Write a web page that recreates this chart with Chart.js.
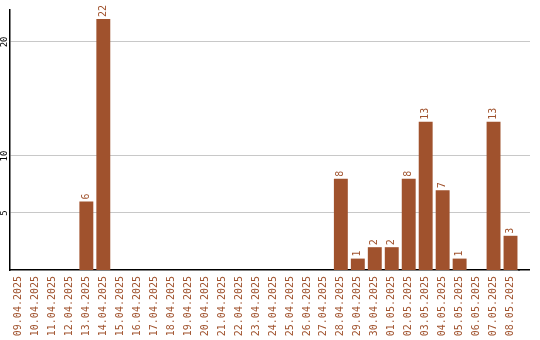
<!DOCTYPE html>
<html>
<head>
<meta charset="utf-8">
<script src="https://cdn.jsdelivr.net/npm/chart.js@4"></script>
<style>
  html, body { margin: 0; padding: 0; background: #fff; }
  #wrap { width: 540px; height: 340px; }
</style>
</head>
<body>
<div id="wrap"><canvas id="barChart"></canvas></div>
<script>
const days = [
  "09.04.2025", "10.04.2025", "11.04.2025", "12.04.2025", "13.04.2025",
  "14.04.2025", "15.04.2025", "16.04.2025", "17.04.2025", "18.04.2025",
  "19.04.2025", "20.04.2025", "21.04.2025", "22.04.2025", "23.04.2025",
  "24.04.2025", "25.04.2025", "26.04.2025", "27.04.2025", "28.04.2025",
  "29.04.2025", "30.04.2025", "01.05.2025", "02.05.2025", "03.05.2025",
  "04.05.2025", "05.05.2025", "06.05.2025", "07.05.2025", "08.05.2025"
];
const counts = [0, 0, 0, 0, 6, 22, 0, 0, 0, 0, 0, 0, 0, 0, 0, 0, 0, 0, 0, 8, 1, 2, 2, 8, 13, 7, 1, 0, 13, 3];
const yTicks = [5, 10, 20];

const barColor = "#a0522d";
const gridColor = "#c8c8c8";
const monoFont = "'DejaVu Sans Mono', monospace";
const extraRight = 11; // plot area runs a bit past the last category

// grid lines and x axis run a little further right than the categories
const extendPlugin = {
  id: "extendAxis",
  beforeDatasetsDraw(chart) {
    const ctx = chart.ctx;
    const area = chart.chartArea;
    const y = chart.scales.y;
    ctx.save();
    ctx.strokeStyle = gridColor;
    ctx.lineWidth = 1;
    yTicks.forEach((t) => {
      const py = Math.round(y.getPixelForValue(t) - 0.5) + 0.5;
      ctx.beginPath();
      ctx.moveTo(area.right - 1, py);
      ctx.lineTo(area.right + extraRight, py);
      ctx.stroke();
    });
    ctx.strokeStyle = "#000";
    ctx.lineWidth = 1.5;
    const by = Math.round(area.bottom - 0.75) + 0.75;
    ctx.beginPath();
    ctx.moveTo(area.right - 1, by);
    ctx.lineTo(area.right + extraRight, by);
    ctx.stroke();
    ctx.restore();
  },
};

// draws the rotated value labels and the rotated y tick labels
const labelPlugin = {
  id: "rotatedLabels",
  afterDatasetsDraw(chart) {
    const ctx = chart.ctx;
    const meta = chart.getDatasetMeta(0);
    ctx.save();
    ctx.font = "10px " + monoFont;
    ctx.fillStyle = barColor;
    ctx.textAlign = "left";
    ctx.textBaseline = "middle";
    meta.data.forEach((bar, i) => {
      if (!counts[i]) return;
      ctx.save();
      ctx.translate(bar.x, bar.y - 2);
      ctx.rotate(-Math.PI / 2);
      ctx.fillText(String(counts[i]), 0, 0);
      ctx.restore();
    });
    ctx.restore();

    const y = chart.scales.y;
    ctx.save();
    ctx.font = "9px " + monoFont;
    ctx.fillStyle = "#000";
    ctx.textAlign = "center";
    ctx.textBaseline = "middle";
    yTicks.forEach((t) => {
      ctx.save();
      ctx.translate(5, y.getPixelForValue(t));
      ctx.rotate(-Math.PI / 2);
      ctx.fillText(String(t), 0, 0);
      ctx.restore();
    });
    ctx.restore();
  },
};

const ctx = document.getElementById("barChart").getContext("2d");
new Chart(ctx, {
  type: "bar",
  data: {
    labels: days,
    datasets: [
      {
        data: counts,
        backgroundColor: barColor,
        borderWidth: 0,
        barPercentage: 0.82,
        categoryPercentage: 1,
      },
    ],
  },
  options: {
    responsive: true,
    maintainAspectRatio: false,
    animation: false,
    layout: { padding: { left: 0, right: 21, top: 10, bottom: 0 } },
    plugins: {
      legend: { display: false },
      tooltip: { enabled: false },
    },
    scales: {
      x: {
        grid: { display: false, drawTicks: false },
        border: { display: true, color: "#000", width: 1.5 },
        ticks: {
          color: barColor,
          font: { family: monoFont, size: 10 },
          minRotation: 90,
          maxRotation: 90,
          autoSkip: false,
          padding: 6,
        },
        afterFit: (scale) => {
          scale.height = 70;
        },
      },
      y: {
        min: 0,
        max: 22.8,
        afterBuildTicks: (scale) => {
          scale.ticks = yTicks.map((v) => ({ value: v }));
        },
        grid: { color: gridColor, drawTicks: false, lineWidth: 1 },
        border: { display: true, color: "#000", width: 1.5 },
        ticks: { display: false },
        afterFit: (scale) => {
          scale.width = 10;
        },
      },
    },
  },
  plugins: [extendPlugin, labelPlugin],
});
</script>
</body>
</html>
